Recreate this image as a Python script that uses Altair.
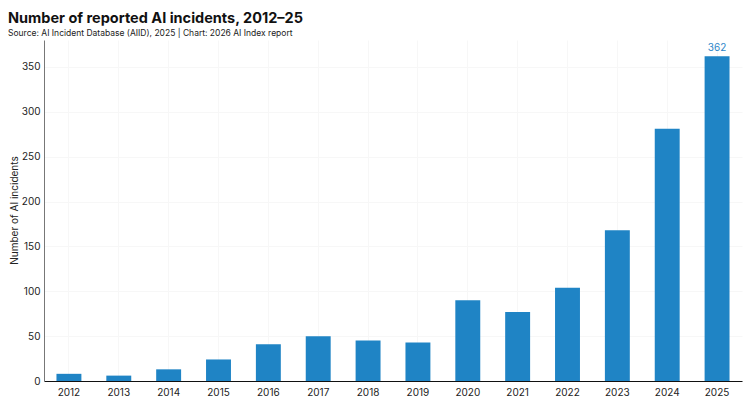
import altair as alt
import pandas as pd

years = [str(y) for y in range(2012, 2026)]
incidents = [8, 6, 13, 24, 41, 50, 45, 43, 90, 77, 104, 168, 281, 362]

df = pd.DataFrame({"year": years, "incidents": incidents})
df["label"] = ["" for _ in years[:-1]] + [str(incidents[-1])]

FONT = "Inter"
BLUE = "#1f84c5"

base = alt.Chart(df).encode(
    x=alt.X("year:N", sort=years, title=None,
            scale=alt.Scale(paddingInner=0.5, paddingOuter=0.25),
            axis=alt.Axis(labelAngle=0, domainColor="#111111", ticks=False,
                          labelFontSize=10, labelColor="#222222", labelFont=FONT,
                          labelPadding=6, grid=True, gridColor="#f7f7f7")),
    y=alt.Y("incidents:Q", title="Number of AI incidents",
            scale=alt.Scale(domain=[0, 380], nice=False),
            axis=alt.Axis(values=[0, 50, 100, 150, 200, 250, 300, 350],
                          domainColor="#777777", ticks=False, labelFontSize=10,
                          labelColor="#222222", labelFont=FONT, labelPadding=4,
                          titleFontSize=10, titleFontWeight="normal", titleFont=FONT,
                          titleColor="#222222", titleX=-25, titleY=170,
                          grid=True, gridColor="#f7f7f7")),
)

bars = base.mark_bar(color=BLUE)
text = base.mark_text(dy=-8, color="#2e86c8", fontSize=10, font=FONT).encode(text="label:N")

chart = (bars + text).properties(
    width=698, height=341,
    autosize=alt.AutoSizeParams(type="none"),
    padding={"left": 36, "top": 32, "right": 3, "bottom": 20},
    title=alt.TitleParams(
        "Number of reported AI incidents, 2012–25",
        subtitle="Source: AI Incident Database (AIID), 2025 | Chart: 2026 AI Index report",
        anchor="start", frame="group", dx=-36, dy=4,
        font=FONT, fontSize=14.5, fontWeight="bold", color="#111111",
        subtitleFont=FONT, subtitleFontSize=8.5, subtitleColor="#222222",
        subtitlePadding=2, offset=6,
    ),
).configure_view(stroke=None)

chart.save("out.html", embed_options={"renderer": "svg", "actions": False})
